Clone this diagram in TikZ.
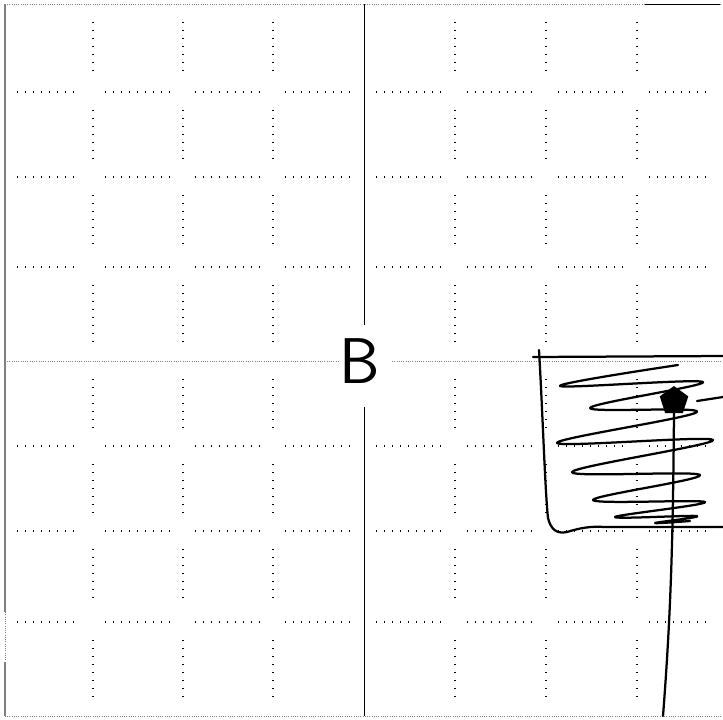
\documentclass[tikz,border=0pt]{standalone}
\usetikzlibrary{shapes.geometric}
\begin{document}
\begin{tikzpicture}[x=0.25mm,y=-0.25mm,
  gridline/.style={line width=0.9pt,dash pattern=on 0.9pt off 4.8pt},
  frameline/.style={gray,line width=0.6pt,densely dotted},
  pen/.style={line width=1.6pt,line cap=round,line join=round}]
  \useasboundingbox (0,0) rectangle (723,719);

  \foreach \x in {93,183,273,455,546,637}
    \foreach \ya/\yb in {4/92,92/177,177/267,267/361,361/446,446/531,531/622,622/716}
      \draw[gridline] (\x,\ya+18) -- (\x,\yb-18);
  \foreach \y in {92,177,267,446,531,622}
    \foreach \xa/\xb in {5/93,93/183,183/273,273/364,364/455,455/546,546/637,637/723}
      \draw[gridline] (\xa+12,\y) -- (\xb-12,\y);

  \draw[gray,line width=0.8pt] (5,4) -- (5,612) (5,662) -- (5,716);
  \draw[frameline] (5,612) -- (5,662);
  \draw[frameline] (5,4) -- (723,4);
  \draw[line width=0.6pt] (645,4) -- (720,4);
  \draw[frameline] (5,716) -- (723,716);

  \node[font=\sffamily\fontsize{46}{46}\selectfont,inner sep=0pt] (label) at (360,361) {B};
  \draw[frameline] (5,361) -- (338,361) (392,361) -- (723,361);
  \draw[line width=0.7pt] (364,4) -- (364,325) (364,407) -- (364,716);

  \draw[pen] (533,357) -- (723,356);
  \draw[pen] (539,350) .. controls (543,420) and (545,490) .. (548,518)
    .. controls (551,530) and (557,534) .. (567,532) .. controls (580,528) and (590,526) .. (605,527) -- (723,527);
  \draw[pen] plot[smooth,tension=0.6] coordinates {(678,365) (560,386) (703,382) (590,408) (697,412)
    (557,443) (713,440) (572,472) (700,475) (593,500) (705,502) (615,517) (697,516) (655,523) (690,521)};

  \node[regular polygon,regular polygon sides=5,fill,minimum size=7.5mm,inner sep=0pt] (dot) at (674,401) {};
  \coordinate (foot) at (663,716);
  \draw[pen] (dot.south) .. controls (673,520) and (672,600) .. (foot);
  \coordinate (tail) at (723,397);
  \draw[pen] (tail) -- (697,401);
\end{tikzpicture}
\end{document}
